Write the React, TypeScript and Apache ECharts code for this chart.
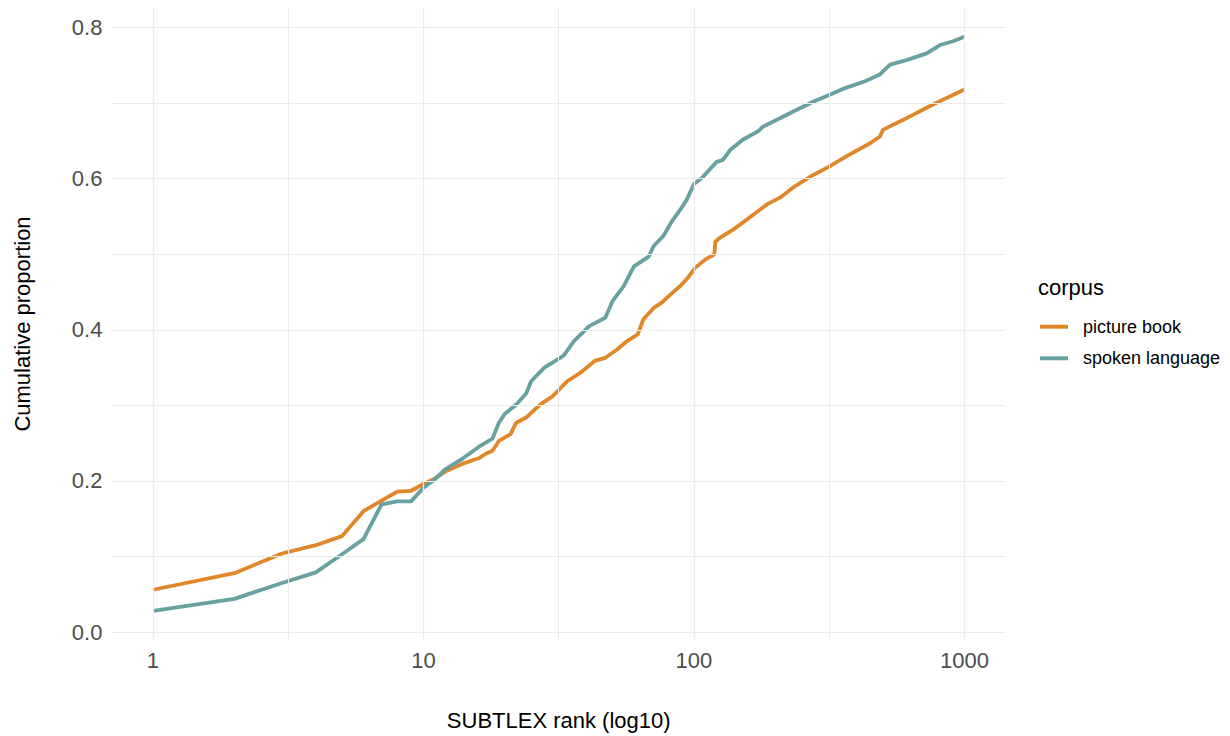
import React, { useEffect, useRef } from "react";
import * as echarts from "echarts";

// picture book corpus: SUBTLEX rank -> cumulative proportion
const pictureBookRanks = [1, 2, 3, 4, 5, 6, 7, 8, 9, 10, 11, 12, 14, 16, 17, 18, 19, 21, 22, 24, 27, 30, 34, 38, 43, 47, 52, 56, 62, 65, 71, 76, 82, 89, 95, 101, 110, 119, 120, 125, 140, 157, 186, 208, 236, 276, 316, 367, 448, 487, 501, 594, 725, 859, 1000];
const pictureBookValues = [0.056, 0.078, 0.104, 0.115, 0.127, 0.16, 0.174, 0.186, 0.187, 0.196, 0.203, 0.212, 0.223, 0.23, 0.236, 0.24, 0.253, 0.262, 0.277, 0.284, 0.301, 0.312, 0.332, 0.343, 0.359, 0.363, 0.374, 0.384, 0.394, 0.414, 0.429, 0.436, 0.447, 0.458, 0.469, 0.482, 0.493, 0.5, 0.517, 0.522, 0.533, 0.546, 0.566, 0.575, 0.59, 0.605, 0.616, 0.63, 0.647, 0.656, 0.665, 0.678, 0.694, 0.707, 0.718];

// spoken language corpus
const spokenRanks = [1, 2, 3, 4, 5, 6, 7, 8, 9, 10, 11, 12, 14, 16, 18, 19, 20, 22, 24, 25, 28, 33, 36, 41, 47, 50, 55, 60, 68, 71, 77, 83, 89, 94, 100, 107, 121, 128, 136, 152, 173, 180, 208, 233, 276, 316, 362, 429, 487, 531, 611, 725, 812, 908, 1000];
const spokenValues = [0.028, 0.044, 0.065, 0.079, 0.103, 0.123, 0.169, 0.173, 0.173, 0.191, 0.202, 0.215, 0.23, 0.245, 0.256, 0.277, 0.289, 0.301, 0.316, 0.332, 0.35, 0.366, 0.385, 0.405, 0.416, 0.438, 0.458, 0.484, 0.497, 0.511, 0.524, 0.544, 0.559, 0.572, 0.593, 0.601, 0.622, 0.625, 0.638, 0.652, 0.663, 0.669, 0.68, 0.689, 0.702, 0.711, 0.72, 0.729, 0.738, 0.751, 0.757, 0.766, 0.777, 0.782, 0.788];

const seriesNames = ["picture book", "spoken language"];
const seriesColors = ["#E0872A", "#68A19F"];

// axis breaks (x in log10 units)
const xMajorBreaks = [0, 1, 2, 3];
const xMinorBreaks = [0.5, 1.5, 2.5];
const yMajorBreaks = [0, 0.2, 0.4, 0.6, 0.8];
const yMinorBreaks = [0.1, 0.3, 0.5, 0.7];

const FONT = "'Liberation Sans', Arial, sans-serif";

export default function App() {
  const ref = useRef<HTMLDivElement>(null);

  useEffect(() => {
    if (!ref.current) return;
    const chart = echarts.init(ref.current, undefined, { renderer: "svg" });

    const toData = (ranks: number[], vals: number[]) =>
      ranks.map((r, i) => [Math.log10(r), vals[i]]);

    const grid = "#EBEBEB";
    const major = { width: 1.2, color: grid, type: "solid" as const };
    const minor = { width: 1, color: grid, type: "solid" as const };
    const gridLines = [
      ...xMajorBreaks.map((v) => ({ xAxis: v, lineStyle: major })),
      ...xMinorBreaks.map((v) => ({ xAxis: v, lineStyle: minor })),
      ...yMajorBreaks.map((v) => ({ yAxis: v, lineStyle: major })),
      ...yMinorBreaks.map((v) => ({ yAxis: v, lineStyle: minor })),
    ];

    chart.setOption({
      animation: false,
      backgroundColor: "#FFFFFF",
      textStyle: { fontFamily: FONT },
      title: {
        text: "corpus",
        left: 1038,
        top: 276,
        padding: 0,
        textStyle: { fontFamily: FONT, fontSize: 22, fontWeight: "normal", color: "#000000" },
      },
      legend: {
        data: seriesNames,
        orient: "vertical",
        left: 1040,
        top: 317.7,
        padding: 0,
        itemWidth: 28,
        itemHeight: 4,
        itemGap: 13.6,
        icon: "rect",
        textStyle: {
          fontFamily: FONT,
          fontSize: 18,
          lineHeight: 18,
          color: "#000000",
          padding: [0, 0, 0, 10],
        },
      },
      grid: { left: 112.4, right: 225, top: 8, bottom: 95.4, containLabel: false },
      xAxis: {
        type: "value",
        min: -0.15,
        max: 3.15,
        splitLine: { show: false },
        axisLine: { show: false, onZero: false },
        axisTick: { show: false, customValues: xMajorBreaks },
        axisLabel: {
          customValues: xMajorBreaks,
          margin: 9.5,
          fontSize: 22,
          fontFamily: FONT,
          color: "#4D4D4D",
          formatter: (v: number) => String(Math.round(Math.pow(10, v))),
        },
        name: "SUBTLEX rank (log10)",
        nameLocation: "middle",
        nameGap: 69,
        nameTextStyle: { fontSize: 22, fontFamily: FONT, color: "#000000" },
      },
      yAxis: {
        type: "value",
        min: -0.0105,
        max: 0.826,
        splitLine: { show: false },
        axisLine: { show: false, onZero: false },
        axisTick: { show: false, customValues: yMajorBreaks },
        axisLabel: {
          customValues: yMajorBreaks,
          margin: 10,
          fontSize: 22,
          fontFamily: FONT,
          color: "#4D4D4D",
          formatter: (v: number) => v.toFixed(1),
        },
        name: "Cumulative proportion",
        nameLocation: "middle",
        nameGap: 79,
        nameTextStyle: { fontSize: 22, fontFamily: FONT, color: "#000000" },
      },
      series: [
        {
          name: "__grid",
          type: "line",
          data: [],
          z: 1,
          silent: true,
          markLine: {
            silent: true,
            symbol: "none",
            label: { show: false },
            lineStyle: { type: "solid", color: grid },
            animation: false,
            data: gridLines,
          },
        },
        {
          name: seriesNames[0],
          type: "line",
          z: 3,
          showSymbol: false,
          color: seriesColors[0],
          lineStyle: { width: 3.8, color: seriesColors[0] },
          data: toData(pictureBookRanks, pictureBookValues),
        },
        {
          name: seriesNames[1],
          type: "line",
          z: 3,
          showSymbol: false,
          color: seriesColors[1],
          lineStyle: { width: 3.8, color: seriesColors[1] },
          data: toData(spokenRanks, spokenValues),
        },
      ],
    });

    return () => chart.dispose();
  }, []);

  return (
    <div
      ref={ref}
      style={{ position: "fixed", left: 0, top: 0, width: 1230, height: 736 }}
    />
  );
}
